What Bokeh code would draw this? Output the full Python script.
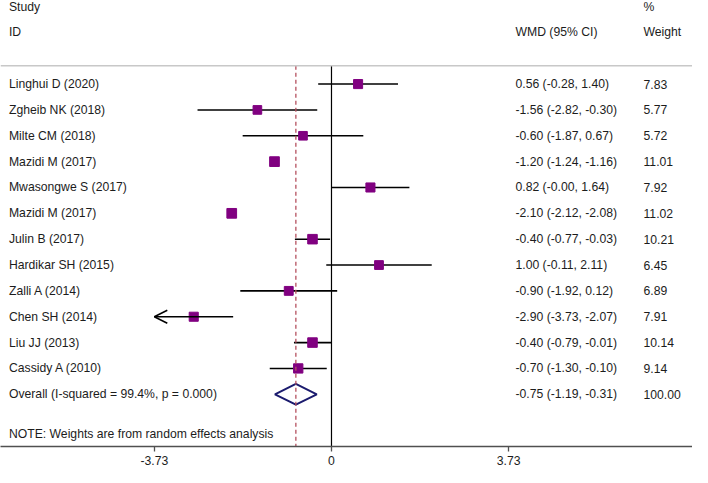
from bokeh.plotting import figure
from bokeh.models import ColumnDataSource, Range1d, FixedTicker, Span, Arrow, OpenHead
from bokeh.embed import file_html
from bokeh.resources import INLINE
from bokeh.core.properties import value

studies = ["Linghui D (2020)", "Zgheib NK  (2018)", "Milte CM (2018)", "Mazidi M (2017)",
           "Mwasongwe S (2017)", "Mazidi M (2017)", "Julin B (2017)", "Hardikar SH (2015)",
           "Zalli A (2014)", "Chen SH (2014)", "Liu JJ (2013)", "Cassidy A (2010)"]
es = [0.56, -1.56, -0.60, -1.20, 0.82, -2.10, -0.40, 1.00, -0.90, -2.90, -0.40, -0.70]
lo = [-0.28, -2.82, -1.87, -1.24, -0.0, -2.12, -0.77, -0.11, -1.92, -3.73, -0.79, -1.30]
hi = [1.40, -0.30, 0.67, -1.16, 1.64, -2.08, -0.03, 2.11, 0.12, -2.07, -0.01, -0.10]
weight = [7.83, 5.77, 5.72, 11.01, 7.92, 11.02, 10.21, 6.45, 6.89, 7.91, 10.14, 9.14]

overall_label = "Overall  (I-squared = 99.4%, p = 0.000)"
overall_es, overall_lo, overall_hi, overall_w = -0.75, -1.19, -0.31, 100.00
note = "NOTE: Weights are from random effects analysis"
ticks = [-3.73, 0, 3.73]
tick_labels = ["-3.73", "0", "3.73"]
axis_min = -3.73

FONT = "Liberation Sans"
FS = "12.2px"
TXT = "#1c1c1c"

n = len(studies)
rows = list(range(n))
orow = n
y_top, y_bot = -3.233, 14.02
rule_y = -0.71

p = figure(width=692, height=467, output_backend="svg", toolbar_location=None,
           x_range=Range1d(-6.968, 7.60), y_range=Range1d(y_bot, y_top),
           min_border=0, min_border_left=0, min_border_right=0, min_border_top=0,
           min_border_bottom=0, outline_line_color=None)
p.xgrid.visible = False
p.ygrid.visible = False
p.yaxis.visible = False
p.xaxis.ticker = FixedTicker(ticks=ticks)
p.xaxis.major_label_overrides = {t: s for t, s in zip(ticks, tick_labels)}
p.xaxis.minor_tick_line_color = None
p.xaxis.major_tick_in = 0
p.xaxis.major_tick_out = 5
p.xaxis.axis_line_color = "#505050"
p.xaxis.axis_line_width = 1.5
p.xaxis.major_tick_line_color = "#505050"
p.xaxis.major_tick_line_width = 1.3
p.xaxis.major_label_text_font = FONT
p.xaxis.major_label_text_font_size = FS
p.xaxis.major_label_text_color = TXT
p.xaxis.major_label_standoff = 4

# top rule
p.add_layout(Span(location=rule_y, dimension="width", line_color="#c8c8c8", line_width=1.5))

# null line
p.segment(x0=[0], y0=[rule_y], x1=[0], y1=[y_bot], line_color="black", line_width=1.2)

# CI lines
seg_idx = [i for i in rows if lo[i] > axis_min]
p.segment(x0=[lo[i] for i in seg_idx], y0=[rows[i] for i in seg_idx],
          x1=[hi[i] for i in seg_idx], y1=[rows[i] for i in seg_idx],
          line_color="black", line_width=1.6)
for i in rows:
    if lo[i] <= axis_min:
        p.add_layout(Arrow(end=OpenHead(size=13, line_width=1.5, line_color="black"),
                           x_start=hi[i], y_start=rows[i], x_end=axis_min, y_end=rows[i],
                           line_color="black", line_width=1.6))

sizes = [7.5 + 0.2 * w for w in weight]
p.scatter(x=es, y=rows, size=sizes, marker="square", fill_color="#800080",
          line_color="#800080")

# overall diamond
h = 0.4
p.patch(x=[overall_lo, overall_es, overall_hi, overall_es],
        y=[orow, orow - h, orow, orow + h],
        fill_color="white", line_color="#1b1b6e", line_width=2)

# overall dashed line
p.segment(x0=[overall_es], y0=[rule_y], x1=[overall_es], y1=[y_bot],
          line_color="#b5505e", line_width=1.3, line_dash="4 3")

# texts
x_left = -6.79
x_wmd = 3.874
x_w = 6.568
wmd_text = [f"{e:.2f} ({l:.2f}, {u:.2f})" for e, l, u in zip(es, lo, hi)]
w_text = [f"{w:.2f}" for w in weight]

src = ColumnDataSource(dict(y=rows, name=studies, wmd=wmd_text, w=w_text))
common = dict(text_font=value(FONT), text_font_size=FS, text_color=TXT,
              text_baseline="middle", text_align="left")
p.text(x=x_left, y="y", text="name", source=src, **common)
p.text(x=x_wmd, y="y", text="wmd", source=src, **common)
p.text(x=x_w, y="y", text="w", source=src, **common)

p.text(x=[x_left], y=[orow], text=[overall_label], **common)
p.text(x=[x_wmd], y=[orow], text=[f"{overall_es:.2f} ({overall_lo:.2f}, {overall_hi:.2f})"], **common)
p.text(x=[x_w], y=[orow], text=[f"{overall_w:.2f}"], **common)
p.text(x=[x_left], y=[13.53], text=[note], **common)

p.text(x=[x_left, x_left, x_wmd, x_w, x_w], y=[-3.0, -2.0, -2.0, -3.0, -2.0],
       text=["Study", "ID", "WMD (95% CI)", "%", "Weight"], **common)

open("out.html", "w").write(file_html(p, INLINE))
